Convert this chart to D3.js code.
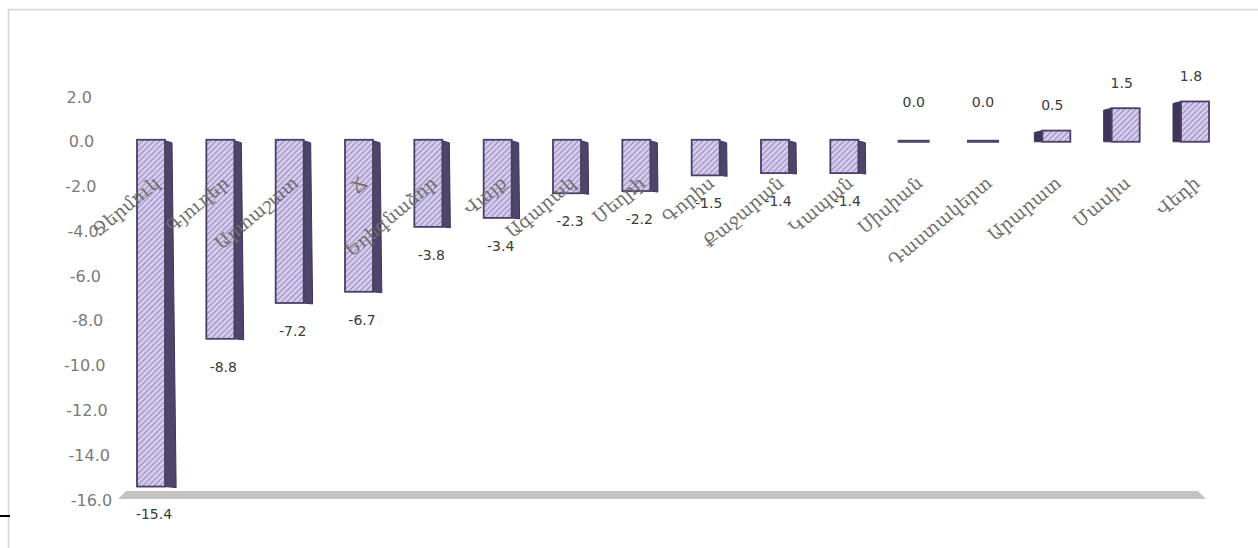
<!DOCTYPE html>
<html>
<head>
<meta charset="utf-8">
<script src="https://cdn.jsdelivr.net/npm/d3@7"></script>
<style>
  html, body { margin: 0; padding: 0; background: #ffffff; }
  svg { display: block; }
</style>
</head>
<body>
<svg id="chart" width="1258" height="548"></svg>
<script>
const categories = ["Ջերմուկ","Գյուղեր","Արտաշատ","Ճ","Եղեգնաձոր","Վայք","Ագարակ","Մեղրի","Գորիս","Քաջարան","Կապան","Սիսիան","Դաստակերտ","Արարատ","Մասիս","Վեդի"];
const values = [-15.4,-8.8,-7.2,-6.7,-3.8,-3.4,-2.3,-2.2,-1.5,-1.4,-1.4,0.0,0.0,0.5,1.5,1.8];
const yTicks = [2,0,-2,-4,-6,-8,-10,-12,-14,-16];

const fmt = v => d3.format(".1f")(v).replace("\u2212","-");
const svg = d3.select("#chart");

// frame
svg.append("line").attr("x1",8.5).attr("y1",9).attr("x2",8.5).attr("y2",548).attr("stroke","#d4d4d4").attr("stroke-width",1.5);
svg.append("line").attr("x1",8).attr("y1",9.5).attr("x2",1258).attr("y2",9.5).attr("stroke","#d4d4d4").attr("stroke-width",1.5);
svg.append("line").attr("x1",0).attr("y1",516).attr("x2",10).attr("y2",516).attr("stroke","#000").attr("stroke-width",2);

const y = d3.scaleLinear().domain([2,-16]).range([97,500]);
const x = d3.scalePoint().domain(categories).range([151,1191]);

// hatch pattern
const defs = svg.append("defs");
const pat = defs.append("pattern").attr("id","hatch").attr("patternUnits","userSpaceOnUse")
  .attr("width",4).attr("height",4).attr("patternTransform","rotate(45)");
pat.append("rect").attr("width",4).attr("height",4).attr("fill","#d5cbec");
pat.append("line").attr("x1",0).attr("y1",0).attr("x2",0).attr("y2",4).attr("stroke","#8476aa").attr("stroke-width",1.5);

// floor at -16
const fy = y(-16);
svg.append("polygon")
  .attr("points",[[126,fy-9],[1198,fy-9],[1206,fy-1],[118,fy-1]].map(p=>p.join(",")).join(" "))
  .attr("fill","#c3c3c3");

// y tick labels (slight perspective shift)
svg.append("g").selectAll("text").data(yTicks).join("text")
  .attr("x", d => 92 + (y(d)-y(2))*0.05)
  .attr("y", d => y(d))
  .attr("dy","0.35em")
  .attr("text-anchor","end")
  .attr("font-family","DejaVu Sans, sans-serif")
  .attr("font-size",16)
  .attr("fill","#7a7a7a")
  .text(d => fmt(d));

const W = 14, D = 7;
const data = categories.map((c,i)=>({c, v: values[i]}));
const g = svg.append("g");
data.forEach(d => {
  const c = x(d.c), y0 = y(0), y1 = y(d.v);
  if (d.v < 0) {
    const Db = D + (y1 - y0) * 0.012;
    g.append("polygon")
      .attr("points",[[c+W,y0-1],[c+W+D,y0+1],[c+W+Db,y1+1],[c+W,y1]].map(p=>p.join(",")).join(" "))
      .attr("fill","#4f4469").attr("stroke","#3f3559").attr("stroke-width",1);
    g.append("rect").attr("x",c-W).attr("y",y0-2).attr("width",2*W).attr("height",y1-y0+2)
      .attr("fill","url(#hatch)").attr("stroke","#4a3f66").attr("stroke-width",1.8);
  } else if (d.v > 0) {
    const cc = c + 4;
    g.append("polygon")
      .attr("points",[[cc-W,y1],[cc-W-D-1,y1+2],[cc-W-D-1,y0],[cc-W,y0]].map(p=>p.join(",")).join(" "))
      .attr("fill","#3f3559").attr("stroke","#3f3559").attr("stroke-width",1);
    g.append("rect").attr("x",cc-W).attr("y",y1).attr("width",2*W).attr("height",y0-y1)
      .attr("fill","url(#hatch)").attr("stroke","#4a3f66").attr("stroke-width",1.8);
  } else {
    g.append("rect").attr("x",c-W-2).attr("y",y0-2).attr("width",2*W+4).attr("height",3)
      .attr("fill","#4f4469");
  }
});

// category labels (drawn over bars)
svg.append("g").selectAll("text").data(categories).join("text")
  .attr("transform", d => `translate(${x(d)+10},${185}) rotate(-40)`)
  .attr("text-anchor","end")
  .attr("font-family","DejaVu Serif, serif")
  .attr("font-size",18)
  .attr("fill","#6e6e6e")
  .text(d => d);

// value labels
svg.append("g").selectAll("text").data(data).join("text")
  .attr("x", d => x(d.c) + (d.v < 0 ? 3 : 0))
  .attr("y", d => d.v < 0 ? y(d.v) + 28 : y(d.v) - (d.v === 0 ? 40 : 25))
  .attr("dy","0.35em")
  .attr("text-anchor","middle")
  .attr("font-family","DejaVu Sans, sans-serif")
  .attr("font-size",14)
  .attr("fill","#3a3a3a")
  .text(d => fmt(d.v));
</script>
</body>
</html>
